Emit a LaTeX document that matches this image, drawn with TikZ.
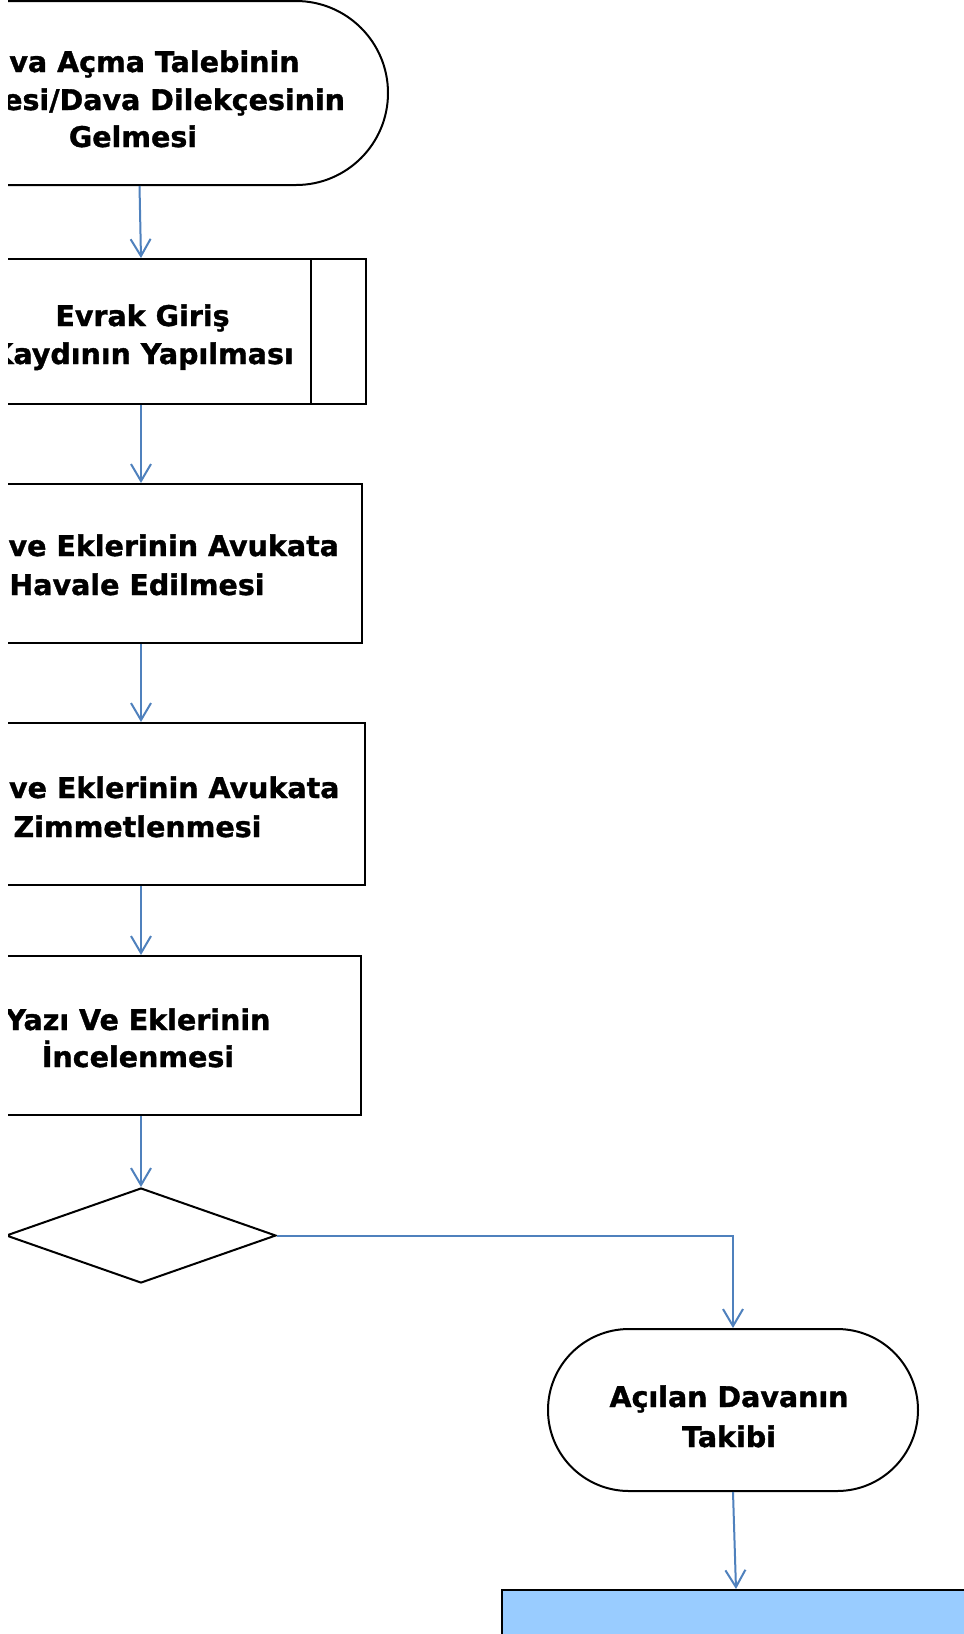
\documentclass[tikz,border=0pt]{standalone}
\usepackage{fontspec}
\setmainfont{DejaVu Sans}[BoldFeatures={FakeBold=1.2}]
\usetikzlibrary{shapes.geometric,shapes.misc,arrows.meta}
\definecolor{connc}{HTML}{4F81BD}
\definecolor{bluefill}{HTML}{99CCFF}
\begin{document}
\begin{tikzpicture}[x=1pt,y=-1pt,
  shp/.style={draw=black,line width=2pt,inner sep=0pt,fill=white},
  lbl/.style={inner sep=0pt,font=\fontsize{28.5}{38}\selectfont\bfseries,anchor=base},
  arr/.style={draw=connc,line width=2pt,-{Straight Barb[length=17pt,width=20pt,line width=2pt]}}]
\useasboundingbox (0,0) rectangle (964,1634);
\fill[white] (0,0) rectangle (964,1634);
\begin{scope}
\clip (8,-5) rectangle (970,1640);
% shapes
\node[shp,rounded rectangle,minimum width=494pt,minimum height=184pt] (t1) at (141,93) {};
\node[shp,rectangle,minimum width=450pt,minimum height=145pt] (b2) at (141,331.5) {};
\draw[line width=2pt] ([xshift=-56pt]b2.north east) -- ([xshift=-56pt]b2.south east);
\node[shp,rectangle,minimum width=442pt,minimum height=159pt] (b3) at (141,563.5) {};
\node[shp,rectangle,minimum width=448pt,minimum height=162pt] (b4) at (141,804) {};
\node[shp,rectangle,minimum width=440pt,minimum height=159pt] (b5) at (141,1035.5) {};
\node[shp,diamond,minimum width=270pt,minimum height=95pt] (d) at (141,1235.5) {};
\node[shp,rounded rectangle,minimum width=370pt,minimum height=162pt] (t2) at (733,1410) {};
\node[shp,rectangle,fill=bluefill,minimum width=468pt,minimum height=220pt] (b6) at (736,1700) {};
% texts
\node[lbl] (t1a) at (133,72) {Dava Açma Talebinin};
\node[lbl] (t1b) at (133,110) {Gelmesi/Dava Dilekçesinin};
\node[lbl] (t1c) at (133,147) {Gelmesi};
\node[lbl] (b2a) at (142.5,326) {Evrak Giriş};
\node[lbl] (b2b) at (142.5,364) {Kaydının Yapılması};
\node[lbl] (b3a) at (137,556) {Yazı ve Eklerinin Avukata};
\node[lbl] (b3b) at (137,595) {Havale Edilmesi};
\node[lbl] (b4a) at (137.5,798) {Yazı ve Eklerinin Avukata};
\node[lbl] (b4b) at (137.5,837) {Zimmetlenmesi};
\node[lbl] (b5a) at (138,1030) {Yazı Ve Eklerinin};
\node[lbl] (b5b) at (138,1067) {İncelenmesi};
\node[lbl] (t2a) at (729,1407) {Açılan Davanın};
\node[lbl] (t2b) at (729,1447) {Takibi};
% connectors
\draw[arr] ([xshift=-1.5pt]t1.south) -- (b2.north);
\draw[arr] (b2.south) -- (b3.north);
\draw[arr] (b3.south) -- (b4.north);
\draw[arr] (b4.south) -- (b5.north);
\draw[arr] (b5.south) -- (d.north);
\draw[arr] (d.east) -| (t2.north);
\draw[arr] (t2.south) -- (b6.north);
\end{scope}
\end{tikzpicture}
\end{document}
